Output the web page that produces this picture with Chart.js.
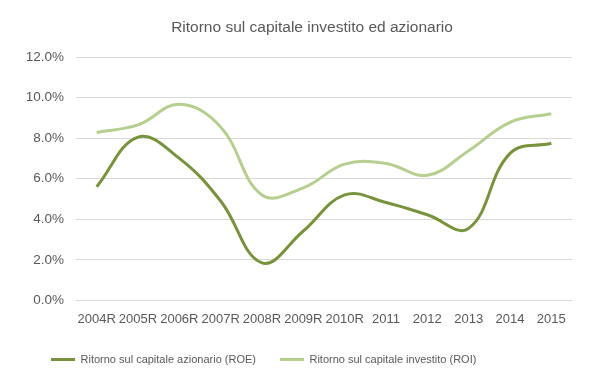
<!DOCTYPE html>
<html>
<head>
<meta charset="utf-8">
<script src="https://cdn.jsdelivr.net/npm/chart.js@4"></script>
<style>
html,body{margin:0;padding:0;background:#fff;}
#wrap{width:599px;height:378px;position:relative;}
</style>
</head>
<body>
<div id="wrap"><canvas id="c" width="599" height="378"></canvas></div>
<script>
const categories = ["2004R","2005R","2006R","2007R","2008R","2009R","2010R","2011","2012","2013","2014","2015"];
const roe = [5.6, 8.05, 7.0, 4.9, 1.85, 3.42, 5.2, 4.83, 4.22, 3.55, 7.25, 7.75];
const roi = [8.28, 8.65, 9.67, 8.55, 5.2, 5.55, 6.72, 6.75, 6.17, 7.38, 8.78, 9.2];
const seriesNames = ["Ritorno sul capitale azionario (ROE)", "Ritorno sul capitale investito (ROI)"];
const titleText = "Ritorno sul capitale investito ed azionario";
const yTicks = [0, 2, 4, 6, 8, 10, 12];

const FONT = "'Liberation Sans', Arial, sans-serif";
const TXT = '#595959';

const titlePlugin = {
  id: 'customTitle',
  afterDraw(chart) {
    const ctx = chart.ctx;
    ctx.save();
    ctx.font = "15.5px " + FONT;
    ctx.fillStyle = TXT;
    ctx.textAlign = 'center';
    ctx.textBaseline = 'middle';
    ctx.fillText(titleText, 312, 28);
    ctx.restore();
  }
};

new Chart(document.getElementById('c'), {
  type: 'line',
  data: {
    labels: categories,
    datasets: [
      { label: seriesNames[0], data: roe, borderColor: '#77933C', backgroundColor: '#77933C', borderWidth: 3, pointRadius: 0, tension: 0.4, fill: false },
      { label: seriesNames[1], data: roi, borderColor: '#B5CF8F', backgroundColor: '#B5CF8F', borderWidth: 3, pointRadius: 0, tension: 0.4, fill: false }
    ]
  },
  plugins: [titlePlugin],
  options: {
    responsive: false,
    animation: false,
    layout: { padding: { left: 27, right: 27, top: 57, bottom: 3 } },
    plugins: {
      title: { display: false },
      legend: {
        position: 'bottom',
        align: 'start',
        labels: {
          color: TXT,
          font: { family: FONT, size: 11 },
          boxWidth: 24, boxHeight: 3, padding: 24,
          generateLabels: (chart) => chart.data.datasets.map((ds, i) => ({
            text: ds.label, fillStyle: ds.borderColor, strokeStyle: ds.borderColor,
            lineWidth: 0, hidden: false, datasetIndex: i, fontColor: TXT
          }))
        }
      },
      tooltip: { enabled: false }
    },
    scales: {
      x: {
        offset: true,
        grid: { display: false, drawTicks: false },
        border: { display: false },
        afterFit: (axis) => { axis.height = axis.height - 8; },
        ticks: { color: TXT, font: { family: FONT, size: 13 }, maxRotation: 0, autoSkip: false, padding: 11 }
      },
      y: {
        min: 0, max: 12,
        afterBuildTicks: (axis) => { axis.ticks = yTicks.map(v => ({ value: v })); },
        afterFit: (axis) => { axis.width = 49; },
        grid: { color: '#D9D9D9', lineWidth: 1, drawTicks: false },
        border: { display: false },
        ticks: { color: TXT, font: { family: FONT, size: 13.5 }, padding: 12,
          callback: (v) => v.toFixed(1) + '%' }
      }
    }
  }
});
</script>
</body>
</html>
